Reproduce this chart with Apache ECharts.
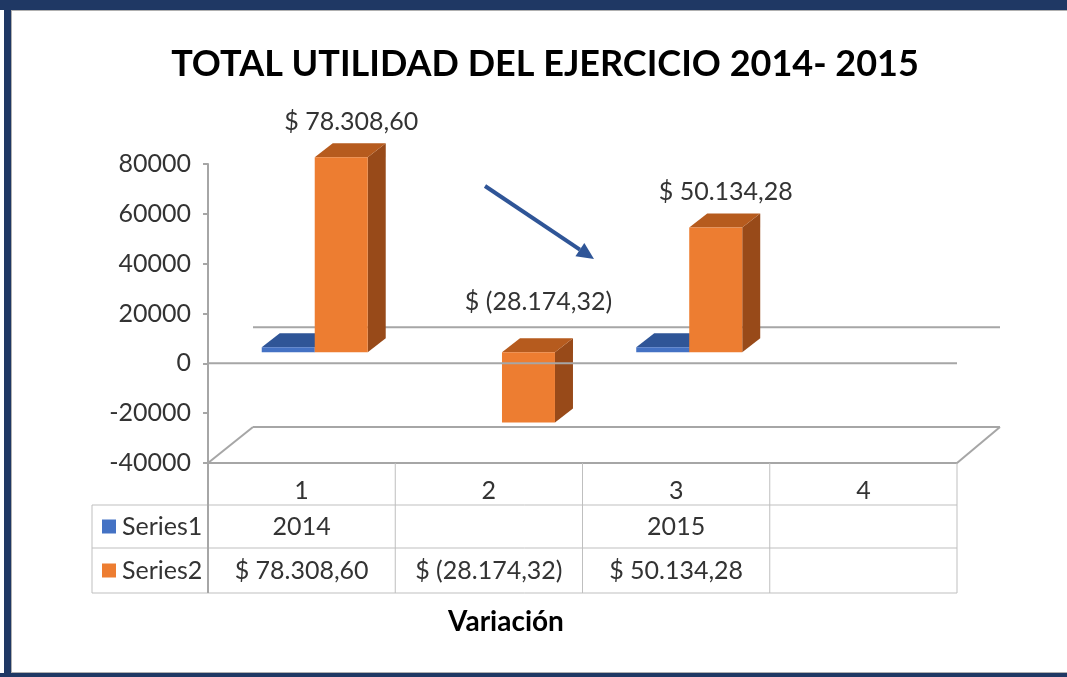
<!DOCTYPE html>
<html><head><meta charset="utf-8">
<script src="https://cdn.jsdelivr.net/npm/echarts@6/dist/echarts.min.js"></script>
<style>html,body{margin:0;padding:0;background:#fff}#c{width:1067px;height:677px}</style>
</head><body><div id="c"></div>
<script>
// ---- data ----
const titleText = 'TOTAL UTILIDAD DEL EJERCICIO 2014- 2015';
const xTitle = 'Variación';
const categories = ['1', '2', '3', '4'];
const seriesNames = ['Series1', 'Series2'];
const series1 = [2014, null, 2015, null];
const series2 = [78308.60, -28174.32, 50134.28, null];
const yMin = -40000, yMax = 80000, yStep = 20000;

// ---- helpers ----
const FONT = 'Lato, "Noto Sans", sans-serif';
const TXT = '#333333';
const GRAY = '#A6A6A6';
function fmtMoney(v) {
  if (v == null) return '';
  const a = Math.abs(v);
  let parts = a.toFixed(2).split('.');
  const i = parts[0].replace(/\B(?=(\d{3})+(?!\d))/g, '.');
  const s = i + ',' + parts[1];
  return v < 0 ? '$ (' + s + ')' : '$ ' + s;
}
function fmtPlain(v) { return v == null ? '' : String(v); }
const rows = [
  { name: seriesNames[0], vals: series1, fmt: fmtPlain, color: '#4472C4' },
  { name: seriesNames[1], vals: series2, fmt: fmtMoney, color: '#ED7D31' }
];
const FACES = [
  { front: '#4472C4', top: '#2F5597', side: '#264478' },
  { front: '#ED7D31', top: '#B65B1E', side: '#984A19' }
];
const DX = 18, DY = -14, SY = -11, FULLX = 45, FULLY = -36;

function toData(arr) {
  const out = [];
  arr.forEach((v, i) => { if (v != null) out.push([i, v]); });
  return out;
}

function barRender(si) {
  return function (params, api) {
    const cat = api.value(0), v = api.value(1);
    const p0 = api.coord([cat, 0]), pv = api.coord([cat, v]);
    const band = api.size([1, 0])[0];
    const W = band * 0.283, SX = band * 0.07;
    const cx = p0[0] + SX;
    const x0 = si === 0 ? cx - W : cx;
    const yt = Math.min(p0[1], pv[1]) + SY, yb = Math.max(p0[1], pv[1]) + SY;
    const f = FACES[si];
    const children = [
      { type: 'polygon', shape: { points: [[x0 + W, yt], [x0 + W + DX, yt + DY], [x0 + W + DX, yb + DY], [x0 + W, yb]] }, style: { fill: f.side } },
      { type: 'polygon', shape: { points: [[x0, yt], [x0 + W, yt], [x0 + W + DX, yt + DY], [x0 + DX, yt + DY]] }, style: { fill: f.top } },
      { type: 'rect', shape: { x: x0, y: yt, width: W, height: Math.max(yb - yt, 0.5) }, style: { fill: f.front } }
    ];
    if (si === 1) {
      children.push({
        type: 'text',
        style: {
          text: fmtMoney(v), x: x0 + W / 2 + 10, y: v >= 0 ? yt + DY - 21 : p0[1] - 61,
          align: 'center', verticalAlign: 'middle', fontSize: 25, fontFamily: FONT, fill: TXT
        }
      });
    }
    return { type: 'group', children: children };
  };
}

function frameRender(params, api) {
  const cs = params.coordSys;
  const gx = cs.x, gw = cs.width, gb = cs.y + cs.height;
  const y0 = api.coord([0, 0])[1];
  const line = (x1, y1, x2, y2, w, c) => ({ type: 'line', shape: { x1, y1, x2, y2 }, style: { stroke: c || GRAY, lineWidth: w || 2 } });
  const ch = [];
  // back zero plane line
  ch.push(line(gx + FULLX, y0 + FULLY, gx + gw + FULLX - 2, y0 + FULLY));
  // floor
  ch.push(line(gx + FULLX, gb + FULLY, gx + gw + FULLX - 2, gb + FULLY));
  ch.push(line(gx, gb, gx + FULLX, gb + FULLY));
  ch.push(line(gx + gw, gb, gx + gw + FULLX - 2, gb + FULLY));
  // data table
  const band = gw / categories.length;
  const r1 = gb + 42, r2 = gb + 85, r3 = gb + 130, lx = gx - 116;
  const TL = '#BFBFBF';
  ch.push(line(lx, r1, gx + gw, r1, 1, TL));
  ch.push(line(lx, r2, gx + gw, r2, 1, TL));
  ch.push(line(lx, r3, gx + gw, r3, 1, TL));
  ch.push(line(lx, r1, lx, r3, 1, TL));
  for (let i = 0; i <= categories.length; i++) {
    ch.push(line(gx + i * band, gb, gx + i * band, r3, i === 0 ? 2 : 1, i === 0 ? GRAY : TL));
  }
  const rowMid = [(r1 + r2) / 2, (r2 + r3) / 2];
  rows.forEach((r, k) => {
    ch.push({ type: 'rect', shape: { x: lx + 10, y: rowMid[k] - 7, width: 14, height: 14 }, style: { fill: r.color } });
    ch.push({ type: 'text', style: { text: r.name, x: lx + 30, y: rowMid[k], align: 'left', verticalAlign: 'middle', fontSize: 25, fontFamily: FONT, fill: TXT } });
    r.vals.forEach((v, i) => {
      ch.push({ type: 'text', style: { text: r.fmt(v), x: gx + (i + 0.5) * band, y: rowMid[k], align: 'center', verticalAlign: 'middle', fontSize: 25, fontFamily: FONT, fill: TXT } });
    });
  });
  return { type: 'group', children: ch };
}

function frontRender(params, api) {
  const cs = params.coordSys;
  const y0 = api.coord([0, 0])[1];
  return { type: 'line', shape: { x1: cs.x, y1: y0, x2: cs.x + cs.width, y2: y0 }, style: { stroke: GRAY, lineWidth: 2 } };
}

// arrow geometry (annotation shape)
const aS = [485, 186], aT = [594, 259];
const adx = aT[0] - aS[0], ady = aT[1] - aS[1], al = Math.hypot(adx, ady);
const ux = adx / al, uy = ady / al, AH = 17, AW = 8;
const aB = [aT[0] - ux * AH, aT[1] - uy * AH];

const chart = echarts.init(document.getElementById('c'), null, { renderer: 'canvas' });
chart.setOption({
  backgroundColor: '#fff',
  animation: false,
  title: {
    text: titleText, left: 540, top: 41, textAlign: 'center',
    textStyle: { fontSize: 36, fontWeight: 'bold', fontFamily: FONT, color: '#000' }
  },
  grid: { left: 208, top: 164, width: 749, height: 299, containLabel: false },
  xAxis: {
    type: 'category', data: categories,
    axisLine: { show: true, onZero: false, lineStyle: { color: GRAY, width: 2 } },
    axisTick: { show: false },
    axisLabel: { fontSize: 25, color: TXT, fontFamily: FONT, margin: 15 },
    splitLine: { show: false }
  },
  yAxis: {
    type: 'value', min: yMin, max: yMax, interval: yStep,
    axisLine: { show: true, lineStyle: { color: GRAY, width: 2 } },
    axisTick: { show: true, length: 5, lineStyle: { color: GRAY, width: 2 } },
    axisLabel: { fontSize: 25, color: TXT, fontFamily: FONT, margin: 17, formatter: v => String(v) },
    splitLine: { show: false }
  },
  series: [
    { type: 'custom', name: 'frame', z: 1, silent: true, data: [[0, 0]], renderItem: frameRender },
    { type: 'custom', name: seriesNames[0], z: 2, data: toData(series1), renderItem: barRender(0) },
    { type: 'custom', name: seriesNames[1], z: 3, data: toData(series2), renderItem: barRender(1) },
    { type: 'custom', name: 'front', z: 4, silent: true, data: [[0, 0]], renderItem: frontRender }
  ],
  graphic: [
    { type: 'rect', shape: { x: 0, y: 0, width: 1067, height: 10 }, style: { fill: '#1F3864' }, z: 100 },
    { type: 'rect', shape: { x: 4, y: 0, width: 7, height: 677 }, style: { fill: '#1F3864' }, z: 100 },
    { type: 'rect', shape: { x: 0, y: 673, width: 1067, height: 4 }, style: { fill: '#1F3864' }, z: 100 },
    { type: 'line', shape: { x1: 11.5, y1: 10, x2: 11.5, y2: 672 }, style: { stroke: '#B0B0B0', lineWidth: 1 }, z: 100 },
    { type: 'line', shape: { x1: 11, y1: 10.5, x2: 1067, y2: 10.5 }, style: { stroke: '#B0B0B0', lineWidth: 1 }, z: 100 },
    { type: 'line', shape: { x1: 11, y1: 672.5, x2: 1067, y2: 672.5 }, style: { stroke: '#B0B0B0', lineWidth: 1 }, z: 100 },
    { type: 'line', shape: { x1: aS[0], y1: aS[1], x2: aB[0], y2: aB[1] }, style: { stroke: '#2F5597', lineWidth: 4 }, z: 50 },
    { type: 'polygon', shape: { points: [aT, [aB[0] - uy * AW, aB[1] + ux * AW], [aB[0] + uy * AW, aB[1] - ux * AW]] }, style: { fill: '#2F5597' }, z: 50 },
    { type: 'text', style: { text: xTitle, x: 506, y: 622, align: 'center', verticalAlign: 'middle', fontSize: 28, fontWeight: 'bold', fontFamily: FONT, fill: '#000' }, z: 50 }
  ]
});
</script>
</body></html>
